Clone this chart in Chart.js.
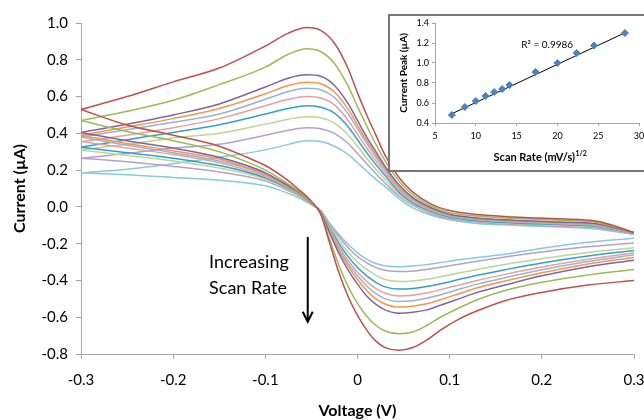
<!DOCTYPE html>
<html><head><meta charset="utf-8">
<script src="https://cdn.jsdelivr.net/npm/chart.js@4.4.0/dist/chart.umd.min.js"></script>
<style>
html,body{margin:0;padding:0;background:#fff;overflow:hidden;width:644px;height:420px;}
#wrap{position:relative;width:644px;height:420px;overflow:hidden;}
#main,#ic{position:absolute;left:0;top:0;}
</style></head><body>
<div id="wrap">
<canvas id="main" width="644" height="420"></canvas>
<canvas id="ic" width="644" height="420"></canvas>
</div>
<script>
// ---- Main chart data (Voltage V, Current uA) ----
const upperV = [-0.3, -0.25, -0.2, -0.15, -0.1, -0.075, -0.055, -0.04, -0.025, -0.01, 0, 0.01, 0.02, 0.03, 0.045, 0.06, 0.08, 0.1, 0.13, 0.17, 0.22, 0.26, 0.28, 0.3];
const lowerV = [-0.3, -0.25, -0.2, -0.15, -0.12, -0.1, -0.08, -0.065, -0.05, -0.04, -0.03, -0.02, -0.01, 0, 0.01, 0.02, 0.03, 0.045, 0.06, 0.075, 0.09, 0.11, 0.13, 0.16, 0.2, 0.25, 0.3];

const redUpper      = [0.53, 0.60, 0.68, 0.755, 0.875, 0.945, 0.975, 0.96, 0.89, 0.75, 0.62, 0.50, 0.39, 0.28, 0.16, 0.08, 0.015, -0.02, -0.042, -0.055, -0.065, -0.078, -0.105, -0.14];
const greenUpper    = [0.47, 0.52, 0.58, 0.665, 0.76, 0.83, 0.86, 0.845, 0.78, 0.655, 0.545, 0.44, 0.34, 0.25, 0.14, 0.065, 0.005, -0.03, -0.05, -0.062, -0.072, -0.085, -0.11, -0.14];
const purpleUpper   = [0.405, 0.45, 0.50, 0.56, 0.652, 0.70, 0.718, 0.71, 0.66, 0.56, 0.47, 0.38, 0.30, 0.22, 0.12, 0.05, -0.005, -0.04, -0.06, -0.072, -0.082, -0.092, -0.115, -0.14];
const orangeUpper   = [0.39, 0.435, 0.48, 0.535, 0.615, 0.66, 0.678, 0.67, 0.625, 0.53, 0.445, 0.36, 0.285, 0.21, 0.11, 0.045, -0.01, -0.043, -0.063, -0.075, -0.085, -0.095, -0.117, -0.14];
const ltBlueUpper   = [0.38, 0.42, 0.46, 0.505, 0.585, 0.628, 0.645, 0.637, 0.595, 0.505, 0.425, 0.345, 0.27, 0.2, 0.1, 0.038, -0.015, -0.047, -0.066, -0.078, -0.088, -0.098, -0.12, -0.142];
const pinkUpper     = [0.355, 0.39, 0.43, 0.48, 0.55, 0.585, 0.6, 0.592, 0.555, 0.47, 0.395, 0.32, 0.25, 0.185, 0.09, 0.03, -0.02, -0.05, -0.07, -0.082, -0.092, -0.102, -0.122, -0.143];
const tealUpper     = [0.325, 0.365, 0.405, 0.447, 0.505, 0.535, 0.55, 0.542, 0.51, 0.435, 0.365, 0.295, 0.23, 0.17, 0.08, 0.022, -0.025, -0.055, -0.075, -0.087, -0.096, -0.106, -0.125, -0.145];
const ltGreenUpper  = [0.31, 0.34, 0.375, 0.40, 0.45, 0.477, 0.49, 0.485, 0.455, 0.39, 0.33, 0.265, 0.205, 0.15, 0.07, 0.015, -0.03, -0.058, -0.078, -0.09, -0.1, -0.11, -0.128, -0.146];
const lavenderUpper = [0.265, 0.29, 0.32, 0.34, 0.39, 0.417, 0.43, 0.425, 0.4, 0.345, 0.29, 0.235, 0.18, 0.13, 0.058, 0.008, -0.037, -0.063, -0.083, -0.095, -0.105, -0.115, -0.131, -0.148];
const cyanUpper     = [0.185, 0.205, 0.235, 0.27, 0.31, 0.34, 0.36, 0.355, 0.33, 0.285, 0.24, 0.195, 0.15, 0.11, 0.045, -0.005, -0.045, -0.07, -0.09, -0.1, -0.11, -0.12, -0.135, -0.15];

const redLower      = [0.53, 0.445, 0.39, 0.33, 0.27, 0.225, 0.16, 0.10, 0.03, -0.04, -0.20, -0.36, -0.49, -0.59, -0.67, -0.73, -0.765, -0.78, -0.765, -0.725, -0.67, -0.61, -0.565, -0.51, -0.465, -0.425, -0.40];
const greenLower    = [0.47, 0.41, 0.36, 0.30, 0.245, 0.2, 0.14, 0.09, 0.025, -0.035, -0.18, -0.32, -0.435, -0.525, -0.595, -0.645, -0.675, -0.69, -0.68, -0.645, -0.6, -0.55, -0.505, -0.455, -0.41, -0.37, -0.34];
const purpleLower   = [0.405, 0.36, 0.32, 0.27, 0.225, 0.185, 0.13, 0.085, 0.025, -0.03, -0.145, -0.255, -0.345, -0.42, -0.485, -0.53, -0.56, -0.578, -0.573, -0.56, -0.535, -0.5, -0.465, -0.425, -0.375, -0.325, -0.29];
const orangeLower   = [0.39, 0.345, 0.305, 0.26, 0.215, 0.178, 0.125, 0.08, 0.022, -0.028, -0.135, -0.24, -0.325, -0.395, -0.455, -0.5, -0.528, -0.545, -0.54, -0.527, -0.505, -0.472, -0.44, -0.403, -0.358, -0.31, -0.275];
const ltBlueLower   = [0.38, 0.335, 0.295, 0.25, 0.21, 0.172, 0.122, 0.078, 0.02, -0.027, -0.128, -0.228, -0.31, -0.375, -0.43, -0.472, -0.5, -0.514, -0.51, -0.497, -0.478, -0.448, -0.42, -0.385, -0.342, -0.297, -0.26];
const pinkLower     = [0.355, 0.32, 0.285, 0.24, 0.2, 0.165, 0.118, 0.075, 0.02, -0.026, -0.122, -0.215, -0.293, -0.355, -0.405, -0.445, -0.47, -0.484, -0.48, -0.468, -0.45, -0.425, -0.4, -0.367, -0.327, -0.285, -0.25];
const tealLower     = [0.325, 0.295, 0.265, 0.225, 0.19, 0.158, 0.113, 0.072, 0.018, -0.025, -0.115, -0.2, -0.272, -0.33, -0.375, -0.41, -0.435, -0.447, -0.444, -0.433, -0.418, -0.395, -0.372, -0.342, -0.305, -0.267, -0.237];
const ltGreenLower  = [0.31, 0.28, 0.25, 0.212, 0.18, 0.15, 0.108, 0.068, 0.017, -0.023, -0.105, -0.182, -0.248, -0.3, -0.34, -0.372, -0.395, -0.406, -0.403, -0.394, -0.38, -0.36, -0.34, -0.313, -0.282, -0.248, -0.222];
const lavenderLower = [0.265, 0.245, 0.22, 0.19, 0.165, 0.14, 0.1, 0.063, 0.015, -0.021, -0.095, -0.162, -0.222, -0.27, -0.305, -0.33, -0.345, -0.352, -0.349, -0.34, -0.328, -0.312, -0.295, -0.272, -0.245, -0.217, -0.197];
const cyanLower     = [0.185, 0.175, 0.16, 0.145, 0.13, 0.115, 0.083, 0.052, 0.012, -0.02, -0.09, -0.15, -0.205, -0.25, -0.285, -0.308, -0.32, -0.326, -0.322, -0.314, -0.303, -0.288, -0.275, -0.258, -0.225, -0.192, -0.17];

const xTickLabels = ['-0.3', '-0.2', '-0.1', '0', '0.1', '0.2', '0.3'];
const yTickLabels = ['-0.8', '-0.6', '-0.4', '-0.2', '0.0', '0.2', '0.4', '0.6', '0.8', '1.0'];

// ---- Inset data ----
const scanRateSqrt = [7.07, 8.66, 10.0, 11.18, 12.25, 13.23, 14.14, 17.32, 20.0, 22.36, 24.49, 28.28];
const peakCurrent  = [0.48, 0.56, 0.62, 0.67, 0.71, 0.74, 0.78, 0.91, 1.0, 1.1, 1.175, 1.3];
const trendX = [7.07, 28.28];
const trendY = [0.493, 1.302];
const insetXTicks = ['5', '10', '15', '20', '25', '30'];
const insetYTicks = ['0.4', '0.6', '0.8', '1.0', '1.2', '1.4'];

const FONT = 'Lato';

const series = [
  {u: redUpper, l: redLower, c: '#C0504D'},
  {u: greenUpper, l: greenLower, c: '#9BBB59'},
  {u: purpleUpper, l: purpleLower, c: '#8064A2'},
  {u: orangeUpper, l: orangeLower, c: '#F79646'},
  {u: ltBlueUpper, l: ltBlueLower, c: '#95B3D7'},
  {u: pinkUpper, l: pinkLower, c: '#E6A09D'},
  {u: tealUpper, l: tealLower, c: '#31A2C4'},
  {u: ltGreenUpper, l: ltGreenLower, c: '#BCD595'},
  {u: lavenderUpper, l: lavenderLower, c: '#B3A2C7'},
  {u: cyanUpper, l: cyanLower, c: '#86CADC'}
];

const datasets = [];
series.forEach(s => {
  [[upperV, s.u], [lowerV, s.l]].forEach(([xs, ys]) => {
    datasets.push({
      data: xs.map((x, i) => ({x: x, y: ys[i]})),
      showLine: true, borderColor: s.c, borderWidth: 1.5,
      pointRadius: 0, cubicInterpolationMode: 'monotone', fill: false
    });
  });
});

const noteX = -0.161, noteY1 = -0.30, noteY2 = -0.44;
const arrowX = -0.054, arrowTop = -0.163, arrowBottom = -0.625;

const annot = {
  id: 'annot',
  afterDraw(chart) {
    const {ctx, scales: {x, y}} = chart;
    ctx.save();
    ctx.fillStyle = '#000';
    ctx.font = '18px ' + FONT;
    ctx.textBaseline = 'middle';
    ctx.textAlign = 'left';
    ctx.fillText('Increasing', x.getPixelForValue(noteX), y.getPixelForValue(noteY1));
    ctx.fillText('Scan Rate', x.getPixelForValue(noteX), y.getPixelForValue(noteY2));
    const ax = x.getPixelForValue(arrowX);
    const y1 = y.getPixelForValue(arrowTop), y2 = y.getPixelForValue(arrowBottom);
    ctx.strokeStyle = '#000';
    ctx.lineWidth = 2;
    ctx.beginPath(); ctx.moveTo(ax, y1); ctx.lineTo(ax, y2 - 1); ctx.stroke();
    ctx.beginPath(); ctx.moveTo(ax - 5, y2 - 10); ctx.lineTo(ax, y2); ctx.lineTo(ax + 5, y2 - 10); ctx.stroke();
    ctx.restore();
  }
};

new Chart(document.getElementById('main'), {
  type: 'scatter',
  data: {datasets},
  options: {
    responsive: false, animation: false, devicePixelRatio: 1,
    layout: {padding: {top: 23, right: 10, left: 0, bottom: 0}},
    plugins: {legend: {display: false}, tooltip: {enabled: false}},
    scales: {
      x: {
        type: 'linear', min: -0.3, max: 0.3,
        ticks: {stepSize: 0.1, callback: (v, i) => xTickLabels[i], font: {family: FONT, size: 15}, color: '#000', padding: 12, maxRotation: 0},
        grid: {display: true, drawOnChartArea: false, drawTicks: true, tickLength: 5, color: '#a6a6a6'},
        border: {color: '#a6a6a6', width: 1},
        title: {display: true, text: 'Voltage (V)', font: {family: FONT, size: 16, weight: 'bold'}, color: '#000', padding: {top: 0, bottom: 0}},
        afterFit: s => { s.height = 66; s.paddingLeft = 0; s.paddingRight = 0; }
      },
      y: {
        type: 'linear', min: -0.8, max: 1.0,
        ticks: {stepSize: 0.2, callback: (v, i) => yTickLabels[i], font: {family: FONT, size: 15}, color: '#000', padding: 8},
        grid: {display: true, drawOnChartArea: false, drawTicks: true, tickLength: 5, color: '#a6a6a6'},
        border: {color: '#a6a6a6', width: 1},
        title: {display: true, text: 'Current (µA)', font: {family: FONT, size: 16, weight: 'bold'}, color: '#000', padding: {top: 10, bottom: 0}},
        afterFit: s => { s.width = 81; s.paddingTop = 0; s.paddingBottom = 0; }
      }
    }
  },
  plugins: [annot]
});

// ---- Inset (overlay canvas, same size as page) ----
const insetBox = {left: 388, top: 14, width: 290, height: 158};
const rLabelX = 15.57, rLabelY = 1.18;
const insetAnnot = {
  id: 'insetAnnot',
  beforeDraw(chart) {
    const ctx = chart.ctx;
    ctx.save();
    ctx.fillStyle = '#fff';
    ctx.fillRect(insetBox.left, insetBox.top, insetBox.width, insetBox.height);
    ctx.strokeStyle = '#777';
    ctx.lineWidth = 2;
    ctx.strokeRect(insetBox.left + 1, insetBox.top + 1, insetBox.width - 2, insetBox.height - 2);
    ctx.restore();
  },
  afterDraw(chart) {
    const {ctx, chartArea, scales: {x, y}} = chart;
    ctx.save();
    ctx.fillStyle = '#000';
    ctx.textBaseline = 'middle';
    ctx.textAlign = 'left';
    ctx.font = '10px ' + FONT;
    ctx.fillText('R² = 0.9986', x.getPixelForValue(rLabelX), y.getPixelForValue(rLabelY));
    const mainT = 'Scan Rate (mV/s)', supT = '1/2';
    ctx.font = 'bold 11px ' + FONT;
    const w1 = ctx.measureText(mainT).width;
    ctx.font = 'bold 7px ' + FONT;
    const w2 = ctx.measureText(supT).width;
    const cx = (chartArea.left + chartArea.right) / 2 + 3;
    const sx = cx - (w1 + w2) / 2;
    const ty = chartArea.bottom + 34;
    ctx.textBaseline = 'alphabetic';
    ctx.font = 'bold 11px ' + FONT;
    ctx.fillText(mainT, sx, ty + 4);
    ctx.font = 'bold 7px ' + FONT;
    ctx.fillText(supT, sx + w1 + 0.5, ty - 1);
    ctx.restore();
  }
};

new Chart(document.getElementById('ic'), {
  type: 'scatter',
  data: {
    datasets: [
      {data: scanRateSqrt.map((x, i) => ({x: x, y: peakCurrent[i]})), pointStyle: 'rectRot', pointRadius: 3.5, backgroundColor: '#4F81BD', borderColor: '#4F81BD', borderWidth: 1},
      {data: trendX.map((x, i) => ({x: x, y: trendY[i]})), showLine: true, borderColor: '#000', borderWidth: 1, pointRadius: 0}
    ]
  },
  options: {
    responsive: false, animation: false, devicePixelRatio: 1,
    layout: {padding: {top: 23, right: 4, left: 390, bottom: 250}},
    plugins: {legend: {display: false}, tooltip: {enabled: false}},
    scales: {
      x: {
        type: 'linear', min: 5, max: 30,
        ticks: {stepSize: 5, callback: (v, i) => insetXTicks[i], font: {family: FONT, size: 9}, color: '#000', padding: 5, maxRotation: 0},
        grid: {display: true, drawOnChartArea: false, drawTicks: true, tickLength: 3, color: '#a6a6a6'},
        border: {color: '#a6a6a6', width: 1},
        afterFit: s => { s.height = 47; s.paddingLeft = 0; s.paddingRight = 0; }
      },
      y: {
        type: 'linear', min: 0.4, max: 1.4,
        ticks: {stepSize: 0.2, callback: (v, i) => insetYTicks[i], font: {family: FONT, size: 9}, color: '#000', padding: 3},
        grid: {display: true, drawOnChartArea: false, drawTicks: true, tickLength: 3, color: '#a6a6a6'},
        border: {color: '#a6a6a6', width: 1},
        title: {display: true, text: 'Current Peak (µA)', font: {family: FONT, size: 10, weight: 'bold'}, color: '#000', padding: {top: 8, bottom: 0}},
        afterFit: s => { s.width = 45; s.paddingTop = 0; s.paddingBottom = 0; }
      }
    }
  },
  plugins: [insetAnnot]
});
</script>
</body></html>
